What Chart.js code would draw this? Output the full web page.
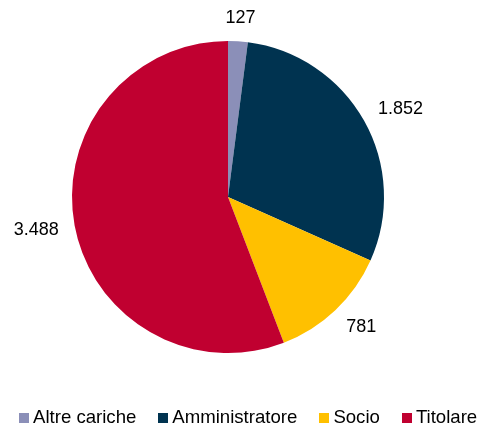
<!DOCTYPE html>
<html>
<head>
<meta charset="utf-8">
<script src="https://cdn.jsdelivr.net/npm/chart.js@4"></script>
<style>
  html, body { margin: 0; padding: 0; background: #fff; }
  #wrap { position: relative; width: 480px; height: 427px; }
  #legend {
    position: absolute; left: 19px; top: 406px;
    display: flex; gap: 22px;
    font: 18.6px "Liberation Sans", Arial, sans-serif; color: #000;
  }
  #legend .item { display: flex; align-items: baseline; gap: 4px; white-space: nowrap; }
  #legend .box { display: inline-block; width: 10px; height: 10px; }
</style>
</head>
<body>
<div id="wrap">
  <canvas id="PieChart"></canvas>
  <div id="legend"></div>
</div>
<script>
const categories = ['Altre cariche', 'Amministratore', 'Socio', 'Titolare'];
const counts = [127, 1852, 781, 3488];
const sliceColors = ['#8b8fb8', '#003350', '#ffc000', '#c00030'];

// thousands separator with a dot, as in Italian
function formatNumber(n) {
    return String(n).replace(/\B(?=(\d{3})+(?!\d))/g, '.');
}

// value labels just outside each slice: anchor on the mid angle,
// then push the text box away from the pie
const outsideLabels = {
    id: 'outsideLabels',
    afterDatasetsDraw(chart) {
        const ctx = chart.ctx;
        const meta = chart.getDatasetMeta(0);
        ctx.save();
        ctx.font = '18px "Liberation Sans", Arial, sans-serif';
        ctx.fillStyle = '#000';
        ctx.textAlign = 'center';
        ctx.textBaseline = 'middle';
        meta.data.forEach((arc, i) => {
            const mid = (arc.startAngle + arc.endAngle) / 2;
            const cos = Math.cos(mid), sin = Math.sin(mid);
            const text = formatNumber(counts[i]);
            const halfW = ctx.measureText(text).width / 2;
            const halfH = 7;
            const d = arc.outerRadius + 16;
            const ax = arc.x + cos * d, ay = arc.y + sin * d;
            const kx = Math.sign(cos) * Math.min(1, Math.abs(cos) * 1.5);
            ctx.fillText(text, ax + kx * halfW, ay + sin * halfH);
        });
        ctx.restore();
    }
};

// legend built from the chart's own legend items
const htmlLegend = {
    id: 'htmlLegend',
    afterUpdate(chart) {
        const box = document.getElementById('legend');
        box.innerHTML = '';
        const items = chart.options.plugins.legend.labels.generateLabels(chart);
        items.forEach(item => {
            const el = document.createElement('span');
            el.className = 'item';
            const sw = document.createElement('span');
            sw.className = 'box';
            sw.style.background = item.fillStyle;
            el.appendChild(sw);
            el.appendChild(document.createTextNode(item.text));
            box.appendChild(el);
        });
    }
};

let PieChart;
function renderChart() {
    const ctx = document.getElementById('PieChart').getContext('2d');
    PieChart = new Chart(ctx, {
        type: 'pie',
        data: {
            labels: categories,
            datasets: [{
                data: counts,
                backgroundColor: sliceColors,
                borderWidth: 0
            }]
        },
        options: {
            responsive: true,
            maintainAspectRatio: false,
            animation: false,
            layout: { padding: { top: 41, bottom: 74, left: 0, right: 24 } },
            plugins: {
                tooltip: { enabled: false },
                legend: { display: false }
            }
        },
        plugins: [outsideLabels, htmlLegend]
    });
}

document.addEventListener('DOMContentLoaded', function () {
    Chart.defaults.font.family = '"Liberation Sans", Arial, sans-serif';
    renderChart();
});
</script>
</body>
</html>
